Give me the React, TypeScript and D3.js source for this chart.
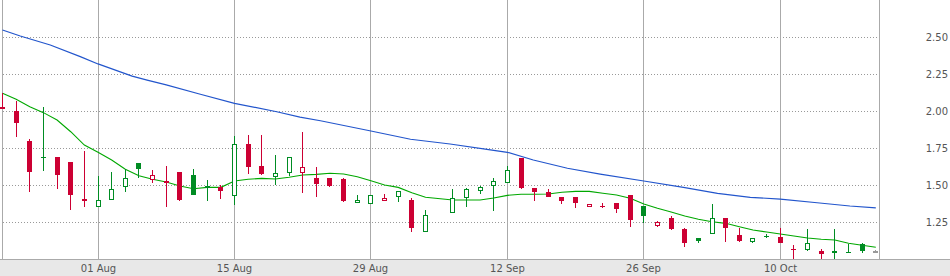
import React from "react";
import * as d3 from "d3";

// ---- data ----
const tickIdx = [7, 17, 27, 37, 47, 57];
const tickLabels = ["01 Aug", "15 Aug", "29 Aug", "12 Sep", "26 Sep", "10 Oct"];
const yTicks = [1.25, 1.5, 1.75, 2.0, 2.25, 2.5];

// one slot per weekday; index 32 is a market holiday (no candle)
const opens: (number | null)[] = [
  2.029, 2.0, 1.797, 1.688, 1.689, 1.655, 1.405, 1.349, 1.397, 1.489,
  1.649, 1.534, 1.527, 1.588, 1.566, 1.478, 1.484, 1.428, 1.777, 1.628,
  1.556, 1.579, 1.579, 1.549, 1.547, 1.541, 1.376, 1.37, 1.39, 1.417,
  1.399, 1.185, null, 1.309, 1.41, 1.459, 1.493, 1.516, 1.684, 1.482,
  1.453, 1.419, 1.419, 1.349, 1.358, 1.378, 1.432, 1.358, 1.225, 1.279,
  1.203, 1.14, 1.167, 1.277, 1.162, 1.117, 1.153, 1.149, 1.069, 1.063,
  1.054, 1.054, 1.044, 1.099, 1.043,
];
const highs: (number | null)[] = [
  2.124, 2.068, 1.809, 2.027, 1.689, 1.655, 1.73, 1.561, 1.59, 1.606,
  1.649, 1.601, 1.628, 1.588, 1.606, 1.534, 1.498, 1.831, 1.84, 1.838,
  1.703, 1.687, 1.86, 1.62, 1.547, 1.547, 1.432, 1.432, 1.439, 1.459,
  1.41, 1.331, null, 1.473, 1.48, 1.493, 1.547, 1.628, 1.684, 1.482,
  1.473, 1.419, 1.419, 1.37, 1.376, 1.378, 1.432, 1.358, 1.257, 1.288,
  1.209, 1.14, 1.372, 1.277, 1.212, 1.144, 1.171, 1.212, 1.095, 1.203,
  1.068, 1.203, 1.099, 1.108, 1.058,
];
const lows: (number | null)[] = [
  2.011, 1.826, 1.455, 1.597, 1.475, 1.331, 1.351, 1.349, 1.397, 1.455,
  1.545, 1.516, 1.353, 1.394, 1.434, 1.394, 1.407, 1.367, 1.574, 1.57,
  1.5, 1.563, 1.448, 1.421, 1.489, 1.387, 1.376, 1.37, 1.39, 1.387,
  1.185, 1.185, null, 1.309, 1.353, 1.437, 1.326, 1.516, 1.471, 1.394,
  1.417, 1.372, 1.347, 1.349, 1.347, 1.313, 1.218, 1.241, 1.218, 1.198,
  1.083, 1.106, 1.167, 1.117, 1.117, 1.106, 1.142, 1.106, 0.98, 1.054,
  1.0, 0.98, 1.044, 1.041, 1.043,
];
const closes: (number | null)[] = [
  2.011, 1.921, 1.59, 1.686, 1.57, 1.432, 1.39, 1.399, 1.473, 1.545,
  1.608, 1.566, 1.514, 1.401, 1.434, 1.493, 1.461, 1.777, 1.624, 1.577,
  1.581, 1.687, 1.62, 1.505, 1.496, 1.392, 1.396, 1.432, 1.412, 1.459,
  1.212, 1.297, null, 1.41, 1.471, 1.489, 1.525, 1.601, 1.478, 1.455,
  1.421, 1.394, 1.378, 1.37, 1.356, 1.34, 1.264, 1.293, 1.25, 1.203,
  1.11, 1.124, 1.275, 1.212, 1.122, 1.144, 1.155, 1.11, 1.066, 1.108,
  1.032, 1.041, 1.044, 1.053, 1.053,
];

// short moving average (green), value per slot
const maShortIdx = [
  0, 1, 2, 3, 4, 5, 6, 7, 8, 9, 10, 11, 12, 13, 14, 15, 16, 17, 18, 19,
  20, 21, 22, 23, 24, 25, 26, 27, 28, 29, 30, 31, 33, 34, 35, 36, 37, 38, 39, 40,
  41, 42, 43, 44, 45, 46, 47, 48, 49, 50, 51, 52, 53, 54, 55, 56, 57, 58, 59, 60,
  61, 62, 63, 64,
];
const maShortVal = [
  2.12, 2.079, 2.029, 1.989, 1.939, 1.86, 1.77, 1.721, 1.669, 1.606,
  1.563, 1.539, 1.52, 1.493, 1.475, 1.484, 1.484, 1.527, 1.539, 1.545,
  1.541, 1.552, 1.568, 1.572, 1.579, 1.574, 1.556, 1.529, 1.5, 1.484,
  1.448, 1.417, 1.399, 1.399, 1.399, 1.412, 1.43, 1.437, 1.437, 1.439,
  1.451, 1.457, 1.457, 1.444, 1.432, 1.41, 1.372, 1.343, 1.318, 1.291,
  1.268, 1.252, 1.241, 1.218, 1.196, 1.182, 1.169, 1.155, 1.142, 1.133,
  1.128, 1.106, 1.093, 1.079,
];

// long moving average (blue), sampled along the line
const maLongIdx = [
  0, 1.3, 3.5, 5.7, 7, 9.5, 10.6, 12, 14.5, 17, 20.1, 21.8, 23.3, 27, 29.9,
  32.8, 35.5, 37, 38.9, 41.4, 43.8, 47, 49.9, 52.4, 54.8, 57, 59.7, 62.1, 64,
];
const maLongVal = [
  2.547, 2.507, 2.446, 2.367, 2.318, 2.236, 2.209, 2.176, 2.113, 2.052, 1.995,
  1.959, 1.934, 1.865, 1.809, 1.777, 1.741, 1.721, 1.669, 1.613, 1.574, 1.527,
  1.484, 1.444, 1.417, 1.405, 1.38, 1.358, 1.345,
];

// ---- layout / style ----
const W = 950;
const H = 276;
const plotLeft = 2;
const plotRight = 879;
const plotBottom = 259;
const RED = "#cc0033";
const GREEN = "#008c23";
const GREY = "#9a9a9a";
const MA_GREEN = "#00a800";
const MA_BLUE = "#2255cc";
const GRID = "#aaaaaa";
const TEXT = "#555555";
const FONT = "'DejaVu Sans', Verdana, sans-serif";

export default function App() {
  const x = d3.scaleLinear().domain([0, 64]).range([2.5, 875.8]);
  const y = d3.scaleLinear().domain([1.0, 2.75]).range([plotBottom, 0]);

  const shortLine = d3
    .line<number>()
    .x((_, i) => x(maShortIdx[i]))
    .y((d) => y(d));
  const longLine = d3
    .line<number>()
    .x((_, i) => x(maLongIdx[i]))
    .y((d) => y(d));

  const candles = opens.map((o, i) => {
    if (o === null) return null;
    const h = highs[i] as number;
    const l = lows[i] as number;
    const c = closes[i] as number;
    const prev = i > 0 ? closes[i - 1] ?? closes[i - 2] : null;
    let color: string;
    if (prev === null || prev === undefined) color = c >= o ? GREEN : RED;
    else if (Math.abs(c - prev) < 1e-9) color = GREY;
    else color = c > prev ? GREEN : RED;
    const hollow = c > o;
    const col = Math.floor(x(i));
    const top = Math.round(y(Math.max(o, c)));
    const bot = Math.round(y(Math.min(o, c)));
    return { i, o, h, l, c, color, hollow, col, top, bot };
  });

  return (
    <svg
      width={W}
      height={H}
      style={{ position: "absolute", left: 0, top: 0, background: "#fff" }}
    >
      <defs>
        <clipPath id="plot">
          <rect x={0} y={0} width={plotRight} height={plotBottom} />
        </clipPath>
      </defs>
      <rect x={0} y={0} width={W} height={H} fill="#fff" />
      {/* bottom band */}
      <rect x={0} y={plotBottom} width={W} height={H - plotBottom} fill="#e8e8e8" />
      <line x1={0} x2={W} y1={plotBottom + 0.5} y2={plotBottom + 0.5} stroke={GRID} />

      {/* horizontal dotted grid */}
      {yTicks.map((t) => (
        <line
          key={t}
          x1={plotLeft + 1}
          x2={plotRight}
          y1={Math.round(y(t)) + 0.5}
          y2={Math.round(y(t)) + 0.5}
          stroke="#999"
          strokeDasharray="1,2"
        />
      ))}
      {/* vertical grid */}
      {tickIdx.map((t) => (
        <line
          key={t}
          x1={Math.floor(x(t)) + 0.5}
          x2={Math.floor(x(t)) + 0.5}
          y1={0}
          y2={plotBottom}
          stroke={GRID}
        />
      ))}
      <line x1={plotLeft + 0.5} x2={plotLeft + 0.5} y1={0} y2={plotBottom} stroke={GRID} />
      <line x1={plotRight + 0.5} x2={plotRight + 0.5} y1={0} y2={plotBottom} stroke={GRID} />

      <g clipPath="url(#plot)">
        <path d={longLine(maLongVal) ?? ""} fill="none" stroke={MA_BLUE} strokeWidth={1.2} />
        <path d={shortLine(maShortVal) ?? ""} fill="none" stroke={MA_GREEN} strokeWidth={1.1} />
        {candles.map((k) => {
          if (!k) return null;
          const bodyH = k.bot - k.top;
          return (
            <g key={k.i} shapeRendering="crispEdges">
              <line
                x1={k.col + 0.5}
                x2={k.col + 0.5}
                y1={y(k.h)}
                y2={y(k.l)}
                stroke={k.color}
              />
              {k.hollow && bodyH >= 2 ? (
                <rect
                  x={k.col - 2 + 0.5}
                  y={k.top + 0.5}
                  width={4}
                  height={bodyH - 1}
                  fill="#fff"
                  stroke={k.color}
                />
              ) : (
                <rect
                  x={k.col - 2}
                  y={k.top}
                  width={5}
                  height={Math.max(1, bodyH)}
                  fill={k.color}
                />
              )}
            </g>
          );
        })}
      </g>

      {/* y labels */}
      {yTicks.map((t) => (
        <text
          key={t}
          x={948}
          y={Math.round(y(t)) + 4}
          textAnchor="end"
          fontFamily={FONT}
          fontSize={10}
          fill={TEXT}
        >
          {t.toFixed(2)}
        </text>
      ))}
      {/* x labels */}
      {tickIdx.map((t, j) => (
        <text
          key={t}
          x={Math.floor(x(t)) + 0.5}
          y={272}
          textAnchor="middle"
          fontFamily={FONT}
          fontSize={10}
          fill={TEXT}
        >
          {tickLabels[j]}
        </text>
      ))}
    </svg>
  );
}
